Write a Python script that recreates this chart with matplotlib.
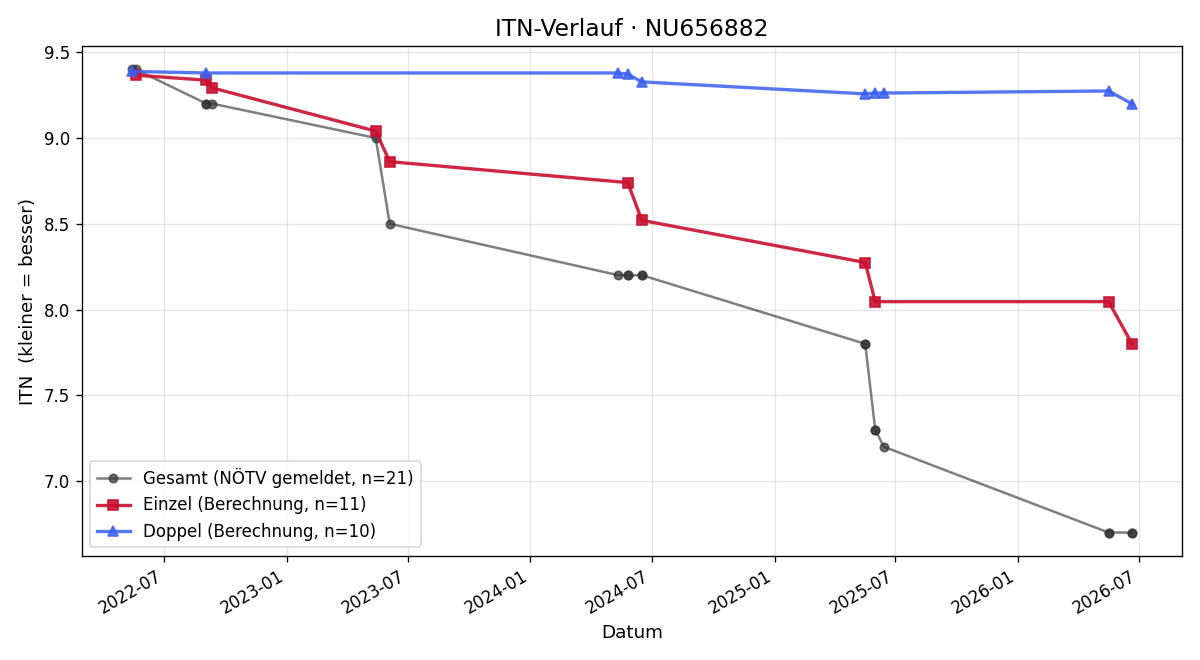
import numpy as np
import pandas as pd
import matplotlib
matplotlib.use("Agg")
import matplotlib.pyplot as plt
import matplotlib.dates as mdates

# Gesamt (reported ITN), one entry per match -> duplicates on shared dates
gesamt_dates = ["2022-05-13", "2022-05-19", "2022-09-02", "2022-09-02",
                "2022-09-11", "2023-05-14", "2023-06-04", "2024-05-12",
                "2024-05-26", "2024-05-26", "2024-06-16", "2024-06-16",
                "2025-05-17", "2025-05-17", "2025-06-01", "2025-06-01",
                "2025-06-14", "2026-05-17", "2026-05-17", "2026-06-21",
                "2026-06-21"]
gesamt_itn = [9.4, 9.4, 9.2, 9.2, 9.2, 9.0, 8.5, 8.2, 8.2, 8.2, 8.2, 8.2,
              7.8, 7.8, 7.3, 7.3, 7.2, 6.7, 6.7, 6.7, 6.7]

einzel_dates = ["2022-05-19", "2022-09-02", "2022-09-11", "2023-05-14",
                "2023-06-04", "2024-05-26", "2024-06-16", "2025-05-17",
                "2025-06-01", "2026-05-17", "2026-06-21"]
einzel_itn = [9.366, 9.337, 9.292, 9.04, 8.862, 8.74, 8.52, 8.274, 8.046,
              8.046, 7.80]

doppel_dates = ["2022-05-13", "2022-09-02", "2024-05-12", "2024-05-26",
                "2024-06-16", "2025-05-17", "2025-06-01", "2025-06-14",
                "2026-05-17", "2026-06-21"]
doppel_itn = [9.388, 9.379, 9.379, 9.372, 9.327, 9.257, 9.262, 9.262,
              9.274, 9.199]

g_x = pd.to_datetime(gesamt_dates)
e_x = pd.to_datetime(einzel_dates)
d_x = pd.to_datetime(doppel_dates)

fig, ax = plt.subplots(figsize=(10, 5.5), dpi=120)

grey_mk = (0.2, 0.2, 0.2, 0.7)
ax.plot(g_x, gesamt_itn, color=(0, 0, 0, 0.5), lw=1.5, marker="o",
        ms=5, mfc=grey_mk, mec=grey_mk,
        label="Gesamt (NÖTV gemeldet, n=%d)" % len(gesamt_itn))
ax.plot(e_x, einzel_itn, color="#c8102e", alpha=0.9, lw=2, marker="s",
        ms=6, label="Einzel (Berechnung, n=%d)" % len(einzel_itn))
ax.plot(d_x, doppel_itn, color="#3a5ff0", alpha=0.85, lw=2, marker="^",
        ms=6, label="Doppel (Berechnung, n=%d)" % len(doppel_itn))

ax.set_title("ITN-Verlauf · NU656882", fontsize=14)
ax.set_xlabel("Datum", fontsize=11)
ax.set_ylabel("ITN  (kleiner = besser)", fontsize=11)
ax.grid(True, alpha=0.3)
ax.xaxis.set_major_locator(mdates.MonthLocator(bymonth=[1, 7]))
ax.xaxis.set_major_formatter(mdates.DateFormatter("%Y-%m"))
ax.legend(loc="lower left", fontsize=10)
fig.autofmt_xdate()

fig.subplots_adjust(left=0.068, right=0.985, top=0.93, bottom=0.158)
fig.savefig("out.png")
